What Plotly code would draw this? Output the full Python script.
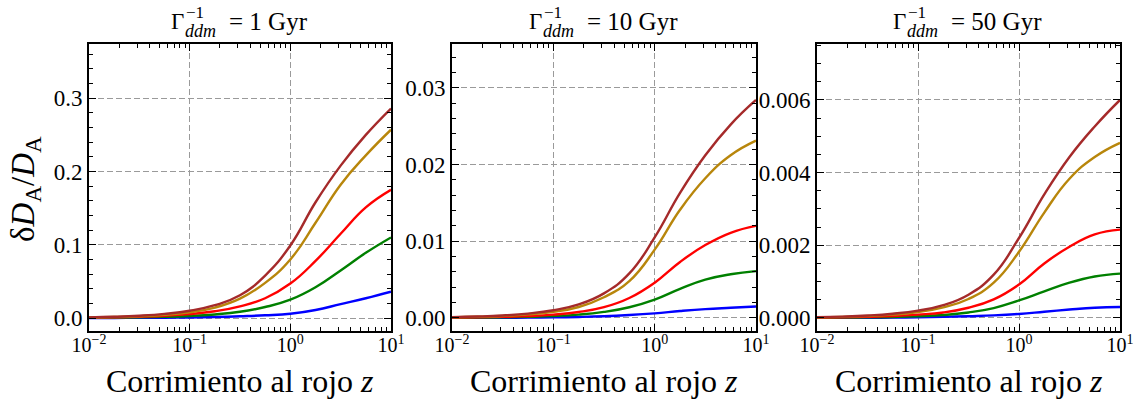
import plotly.graph_objects as go

# redshift sample points (quarter-decade spacing)
z = [0.01, 0.0178, 0.0316, 0.0562, 0.1, 0.178, 0.316, 0.562, 1, 1.78, 3.16, 5.62, 10]

# Panel 1: Gamma^-1 = 1 Gyr
p1_brown = [0.00095, 0.0017, 0.0031, 0.0056, 0.0099, 0.0175, 0.0310, 0.058, 0.099, 0.158, 0.208, 0.250, 0.286]
p1_gold = [0.00078, 0.0014, 0.0025, 0.0044, 0.0079, 0.0143, 0.0265, 0.048, 0.080, 0.130, 0.182, 0.222, 0.257]
p1_red = [0.00053, 0.00095, 0.0017, 0.003, 0.0053, 0.0092, 0.016, 0.027, 0.047, 0.078, 0.115, 0.151, 0.175]
p1_green = [0.00028, 0.0005, 0.0009, 0.0016, 0.0028, 0.0049, 0.0085, 0.015, 0.025, 0.042, 0.065, 0.089, 0.110]
p1_blue = [0.00008, 0.00014, 0.00025, 0.00045, 0.0008, 0.0014, 0.0024, 0.0037, 0.0058, 0.011, 0.019, 0.027, 0.036]

# Panel 2: Gamma^-1 = 10 Gyr
p2_brown = [0.0001, 0.00018, 0.00032, 0.00057, 0.001, 0.00176, 0.0032, 0.0058, 0.0105, 0.0163, 0.0212, 0.0252, 0.0284]
p2_gold = [0.00008, 0.00015, 0.00026, 0.00046, 0.0008, 0.00143, 0.0027, 0.0048, 0.0089, 0.0141, 0.0182, 0.0212, 0.0231]
p2_red = [0.000045, 0.00008, 0.00014, 0.00024, 0.00043, 0.00077, 0.0014, 0.0026, 0.0046, 0.0073, 0.0095, 0.0111, 0.0120]
p2_green = [0.000025, 0.000045, 0.00008, 0.00014, 0.00024, 0.00043, 0.00079, 0.0014, 0.0024, 0.0038, 0.0050, 0.0057, 0.0061]
p2_blue = [0.000008, 0.000014, 0.000025, 0.000045, 0.00008, 0.00013, 0.00022, 0.00038, 0.0006, 0.00090, 0.00115, 0.00133, 0.0015]

# Panel 3: Gamma^-1 = 50 Gyr
p3_brown = [0.00002, 0.000037, 0.000065, 0.000115, 0.0002, 0.00035, 0.00064, 0.00119, 0.0022, 0.0034, 0.00443, 0.00527, 0.0060]
p3_gold = [0.000016, 0.00003, 0.00005, 0.00009, 0.00016, 0.00029, 0.00052, 0.00097, 0.00182, 0.0029, 0.00383, 0.00443, 0.00482]
p3_red = [0.000009, 0.000016, 0.000028, 0.00005, 0.00009, 0.00015, 0.00028, 0.00051, 0.00092, 0.0015, 0.00196, 0.0023, 0.00243]
p3_green = [0.0000045, 0.000008, 0.000015, 0.000026, 0.000045, 0.00008, 0.00015, 0.00027, 0.00048, 0.00073, 0.00097, 0.00114, 0.00122]
p3_blue = [0.0000016, 0.000003, 0.000005, 0.000009, 0.000016, 0.000028, 0.000048, 0.00007, 0.00011, 0.00017, 0.00023, 0.00028, 0.0003]

title_values = ["= 1 Gyr", "= 10 Gyr", "= 50 Gyr"]
title_gamma = "Γ"
title_sup = "−1"
title_sub = "<i>ddm</i>"
x_title = "Corrimiento al rojo <i>z</i>"
y_title = "δ<i>D</i><sub>A</sub>/<i>D</i><sub>A</sub>"
colors = ["#0000FF", "#008000", "#FF0000", "#B8860B", "#A52A2A"]

panels = [
    [p1_blue, p1_green, p1_red, p1_gold, p1_brown],
    [p2_blue, p2_green, p2_red, p2_gold, p2_brown],
    [p3_blue, p3_green, p3_red, p3_gold, p3_brown],
]
y_ranges = [[-0.0177, 0.374], [-0.0017, 0.0357], [-0.00036, 0.00754]]
y_dticks = [0.1, 0.01, 0.002]
y_minor = [0.02, 0.002, 0.0005]
y_fmt = [".1f", ".2f", ".3f"]

W, H = 1134, 403
x_px = [[89, 391], [452, 756], [817, 1120]]
x_domains = [[a / W, b / W] for a, b in x_px]
y_domain = [1 - 331 / H, 1 - 44 / H]
title_start_px = [170, 528, 892]

x_major = [0.01, 0.1, 1, 10]
x_labels = ["10<sup>−2</sup>", "10<sup>−1</sup>", "10<sup>0</sup>", "10<sup>1</sup>"]
x_minor = [m * d for d in [0.01, 0.1, 1] for m in range(2, 10)]

FONT = "'Liberation Serif', 'Times New Roman', serif"

fig = go.Figure()
for i, series in enumerate(panels):
    xa = "x" if i == 0 else f"x{i+1}"
    ya = "y" if i == 0 else f"y{i+1}"
    for vals, c in zip(series, colors):
        fig.add_trace(go.Scatter(x=z, y=vals, mode="lines",
                                 line=dict(color=c, width=2.4, shape="spline", smoothing=1.3),
                                 xaxis=xa, yaxis=ya, showlegend=False))
    axkey = "" if i == 0 else str(i + 1)
    fig.update_layout(**{
        f"xaxis{axkey}": dict(
            type="log", range=[-2, 1], domain=x_domains[i], anchor=ya, automargin=False,
            tickmode="array", tickvals=x_major, ticktext=x_labels, ticklabelstandoff=-5,
            ticks="inside", ticklen=7, tickwidth=1.2, tickcolor="black",
            showline=True, linecolor="black", linewidth=2, mirror="allticks",
            showgrid=True, gridcolor="#9a9a9a", griddash="6px,3px", gridwidth=1,
            zeroline=False,
            tickfont=dict(family=FONT, size=20, color="black"),
            minor=dict(tickmode="array", tickvals=x_minor, ticks="inside", ticklen=4,
                       tickcolor="black", tickwidth=1, showgrid=False),
        ),
        f"yaxis{axkey}": dict(
            range=y_ranges[i], domain=y_domain, anchor=xa, automargin=False,
            tick0=0, dtick=y_dticks[i], tickformat=y_fmt[i],
            ticks="inside", ticklen=7, tickwidth=1.2, tickcolor="black",
            showline=True, linecolor="black", linewidth=2, mirror="allticks",
            showgrid=True, gridcolor="#9a9a9a", griddash="6px,3px", gridwidth=1,
            zeroline=False,
            tickfont=dict(family=FONT, size=23, color="black"),
            minor=dict(tick0=0, dtick=y_minor[i], ticks="inside", ticklen=4,
                       tickcolor="black", tickwidth=1, showgrid=False),
        ),
    })
    s = title_start_px[i]
    # panel title: Γ with stacked superscript and subscript
    fig.add_annotation(text=title_gamma, xref="paper", yref="paper", x=s / W, y=1 - 21 / H,
                       xanchor="left", yanchor="middle", showarrow=False, borderpad=0,
                       font=dict(family=FONT, size=23, color="black"))
    fig.add_annotation(text=title_sup, xref="paper", yref="paper", x=(s + 15) / W, y=1 - 13 / H,
                       xanchor="left", yanchor="middle", showarrow=False, borderpad=0,
                       font=dict(family=FONT, size=17, color="black"))
    fig.add_annotation(text=title_sub, xref="paper", yref="paper", x=(s + 14) / W, y=1 - 31 / H,
                       xanchor="left", yanchor="middle", showarrow=False, borderpad=0,
                       font=dict(family=FONT, size=18, color="black"))
    fig.add_annotation(text=title_values[i], xref="paper", yref="paper", x=(s + 58) / W, y=1 - 21 / H,
                       xanchor="left", yanchor="middle", showarrow=False, borderpad=0,
                       font=dict(family=FONT, size=25, color="black"))
    # x-axis title
    fig.add_annotation(text=x_title, xref="paper", yref="paper",
                       x=(x_px[i][0] + x_px[i][1]) / 2 / W, y=1 - 381 / H,
                       xanchor="center", yanchor="middle", showarrow=False,
                       font=dict(family=FONT, size=32, color="black"))

fig.add_annotation(text=y_title, xref="paper", yref="paper", x=25 / W, y=1 - 189 / H,
                   xanchor="center", yanchor="middle", textangle=-90, showarrow=False,
                   font=dict(family=FONT, size=33, color="black"))

fig.update_layout(width=W, height=H, margin=dict(l=0, r=0, t=0, b=0),
                  plot_bgcolor="white", paper_bgcolor="white")

fig.write_html("out.html")
